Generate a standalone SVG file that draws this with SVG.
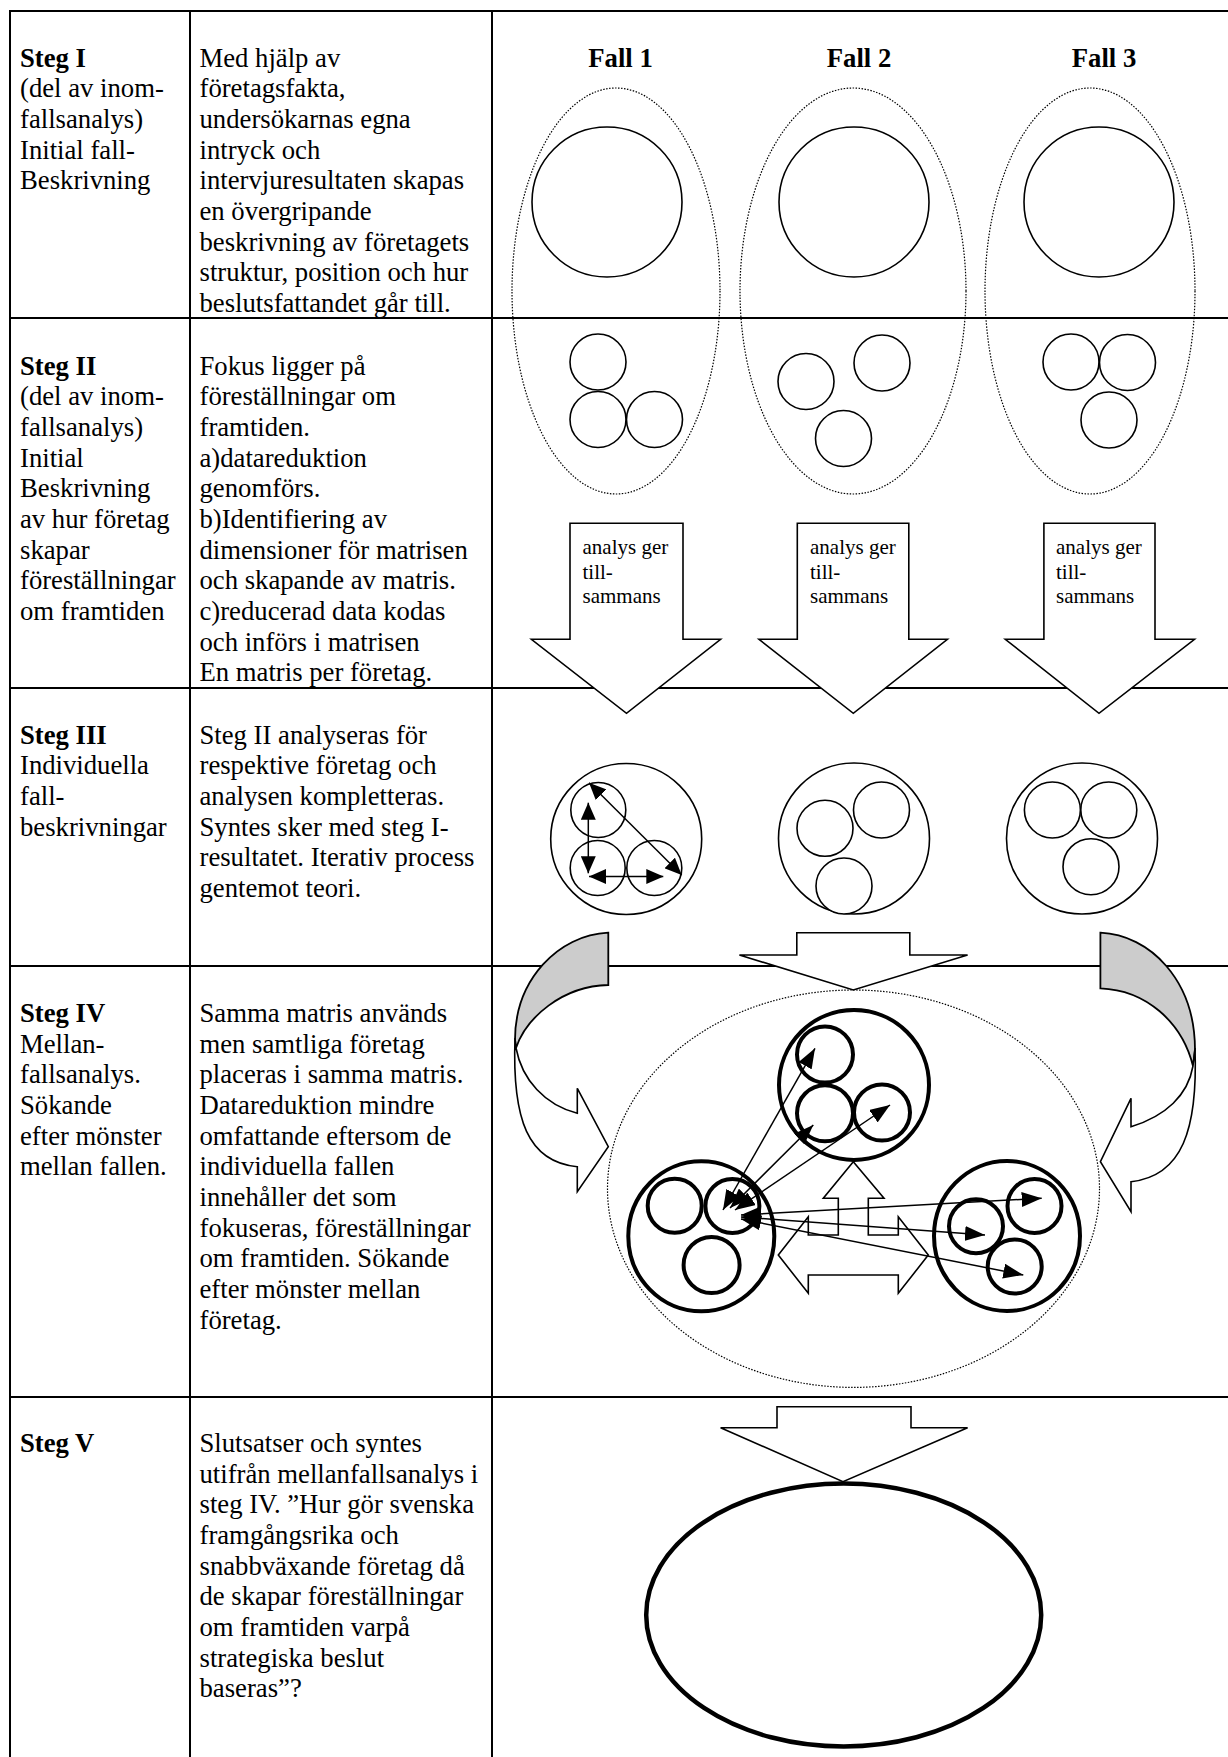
<svg xmlns="http://www.w3.org/2000/svg" width="1228" height="1757" viewBox="0 0 1228 1757">
<style>
.grid{stroke:#000;stroke-width:2;fill:none}
.t{font-family:"Liberation Serif","Times New Roman",serif;font-size:26.7px;fill:#000}
.b{font-weight:bold}
.s{font-family:"Liberation Serif","Times New Roman",serif;font-size:21px;fill:#000}
.dot{fill:none;stroke:#000;stroke-width:1.2;stroke-dasharray:1.5 1.5}
.thin{fill:#fff;stroke:#000;stroke-width:1.6}
.thick{fill:#fff;stroke:#000;stroke-width:4}
.blk{fill:#fff;stroke:#000;stroke-width:1.6;stroke-linejoin:miter}
.gray{fill:#cccccc;stroke:#000;stroke-width:1.8}
.ln{stroke:#000;stroke-width:1.5;fill:none}
</style>
<defs>
<marker id="ah" viewBox="0 0 10 10" refX="10" refY="5" markerUnits="userSpaceOnUse" markerWidth="20" markerHeight="15" orient="auto-start-reverse" preserveAspectRatio="none">
<path d="M0,0 L10,5 L0,10 z" fill="#000"/>
</marker>
<marker id="ahs" viewBox="0 0 10 10" refX="10" refY="5" markerUnits="userSpaceOnUse" markerWidth="17" markerHeight="15" orient="auto-start-reverse" preserveAspectRatio="none">
<path d="M0,0 L10,5 L0,10 z" fill="#000"/>
</marker>
</defs>
<rect width="1228" height="1757" fill="#fff"/>

<g id="table">
<line class="grid" x1="10" y1="11" x2="1228" y2="11"/>
<line class="grid" x1="10" y1="318" x2="1228" y2="318"/>
<line class="grid" x1="10" y1="688" x2="1228" y2="688"/>
<line class="grid" x1="10" y1="966" x2="1228" y2="966"/>
<line class="grid" x1="10" y1="1397" x2="1228" y2="1397"/>
<line class="grid" x1="10" y1="10" x2="10" y2="1757"/>
<line class="grid" x1="190" y1="10" x2="190" y2="1757"/>
<line class="grid" x1="492" y1="10" x2="492" y2="1757"/>
</g>

<g id="steg1-label">
<text class="t" x="20" y="66.7"><tspan class="b">Steg I</tspan><tspan x="20" dy="30.67">(del av inom-</tspan><tspan x="20" dy="30.67">fallsanalys)</tspan><tspan x="20" dy="30.67">Initial fall-</tspan><tspan x="20" dy="30.67">Beskrivning</tspan></text>
</g>
<g id="steg1-text">
<text class="t" x="199.5" y="66.7"><tspan>Med hjälp av</tspan><tspan x="199.5" dy="30.67">företagsfakta,</tspan><tspan x="199.5" dy="30.67">undersökarnas egna</tspan><tspan x="199.5" dy="30.67">intryck och</tspan><tspan x="199.5" dy="30.67">intervjuresultaten skapas</tspan><tspan x="199.5" dy="30.67">en övergripande</tspan><tspan x="199.5" dy="30.67">beskrivning av företagets</tspan><tspan x="199.5" dy="30.67">struktur, position och hur</tspan><tspan x="199.5" dy="30.67">beslutsfattandet går till.</tspan></text>
</g>

<g id="steg2-label">
<text class="t" x="20" y="374.5"><tspan class="b">Steg II</tspan><tspan x="20" dy="30.67">(del av inom-</tspan><tspan x="20" dy="30.67">fallsanalys)</tspan><tspan x="20" dy="30.67">Initial</tspan><tspan x="20" dy="30.67">Beskrivning</tspan><tspan x="20" dy="30.67">av hur företag</tspan><tspan x="20" dy="30.67">skapar</tspan><tspan x="20" dy="30.67">föreställningar</tspan><tspan x="20" dy="30.67">om framtiden</tspan></text>
</g>
<g id="steg2-text">
<text class="t" x="199.5" y="374.5"><tspan>Fokus ligger på</tspan><tspan x="199.5" dy="30.67">föreställningar om</tspan><tspan x="199.5" dy="30.67">framtiden.</tspan><tspan x="199.5" dy="30.67">a)datareduktion</tspan><tspan x="199.5" dy="30.67">genomförs.</tspan><tspan x="199.5" dy="30.67">b)Identifiering av</tspan><tspan x="199.5" dy="30.67">dimensioner för matrisen</tspan><tspan x="199.5" dy="30.67">och skapande av matris.</tspan><tspan x="199.5" dy="30.67">c)reducerad data kodas</tspan><tspan x="199.5" dy="30.67">och införs i matrisen</tspan><tspan x="199.5" dy="30.67">En matris per företag.</tspan></text>
</g>

<g id="steg3-label">
<text class="t" x="20" y="743.5"><tspan class="b">Steg III</tspan><tspan x="20" dy="30.67">Individuella</tspan><tspan x="20" dy="30.67">fall-</tspan><tspan x="20" dy="30.67">beskrivningar</tspan></text>
</g>
<g id="steg3-text">
<text class="t" x="199.5" y="743.5"><tspan>Steg II analyseras för</tspan><tspan x="199.5" dy="30.67">respektive företag och</tspan><tspan x="199.5" dy="30.67">analysen kompletteras.</tspan><tspan x="199.5" dy="30.67">Syntes sker med steg I-</tspan><tspan x="199.5" dy="30.67">resultatet. Iterativ process</tspan><tspan x="199.5" dy="30.67">gentemot teori.</tspan></text>
</g>

<g id="steg4-label">
<text class="t" x="20" y="1022"><tspan class="b">Steg IV</tspan><tspan x="20" dy="30.67">Mellan-</tspan><tspan x="20" dy="30.67">fallsanalys.</tspan><tspan x="20" dy="30.67">Sökande</tspan><tspan x="20" dy="30.67">efter mönster</tspan><tspan x="20" dy="30.67">mellan fallen.</tspan></text>
</g>
<g id="steg4-text">
<text class="t" x="199.5" y="1022"><tspan>Samma matris används</tspan><tspan x="199.5" dy="30.67">men samtliga företag</tspan><tspan x="199.5" dy="30.67">placeras i samma matris.</tspan><tspan x="199.5" dy="30.67">Datareduktion mindre</tspan><tspan x="199.5" dy="30.67">omfattande eftersom de</tspan><tspan x="199.5" dy="30.67">individuella fallen</tspan><tspan x="199.5" dy="30.67">innehåller det som</tspan><tspan x="199.5" dy="30.67">fokuseras, föreställningar</tspan><tspan x="199.5" dy="30.67">om framtiden. Sökande</tspan><tspan x="199.5" dy="30.67">efter mönster mellan</tspan><tspan x="199.5" dy="30.67">företag.</tspan></text>
</g>

<g id="steg5-label">
<text class="t b" x="20" y="1452">Steg V</text>
</g>
<g id="steg5-text">
<text class="t" x="199.5" y="1452"><tspan>Slutsatser och syntes</tspan><tspan x="199.5" dy="30.67">utifrån mellanfallsanalys i</tspan><tspan x="199.5" dy="30.67">steg IV. ”Hur gör svenska</tspan><tspan x="199.5" dy="30.67">framgångsrika och</tspan><tspan x="199.5" dy="30.67">snabbväxande företag då</tspan><tspan x="199.5" dy="30.67">de skapar föreställningar</tspan><tspan x="199.5" dy="30.67">om framtiden varpå</tspan><tspan x="199.5" dy="30.67">strategiska beslut</tspan><tspan x="199.5" dy="30.67">baseras”?</tspan></text>
</g>

<g id="fall-headers">
<text class="t b" x="620.5" y="66.7" text-anchor="middle">Fall 1</text>
<text class="t b" x="859" y="66.7" text-anchor="middle">Fall 2</text>
<text class="t b" x="1104" y="66.7" text-anchor="middle">Fall 3</text>
</g>

<g id="fall1-stage12">
<ellipse class="dot" cx="616" cy="291" rx="104" ry="203"/>
<circle class="thin" cx="607" cy="202" r="75"/>
<circle class="thin" cx="598" cy="362" r="28"/>
<circle class="thin" cx="598" cy="419.5" r="28"/>
<circle class="thin" cx="654.5" cy="419.5" r="28"/>
</g>
<g id="fall2-stage12">
<ellipse class="dot" cx="853" cy="291" rx="113" ry="203"/>
<circle class="thin" cx="854" cy="202" r="75"/>
<circle class="thin" cx="806" cy="381.5" r="28"/>
<circle class="thin" cx="882" cy="363" r="28"/>
<circle class="thin" cx="843.5" cy="438.5" r="28"/>
</g>
<g id="fall3-stage12">
<ellipse class="dot" cx="1090" cy="291" rx="105" ry="203"/>
<circle class="thin" cx="1099" cy="202" r="75"/>
<circle class="thin" cx="1071" cy="362" r="28"/>
<circle class="thin" cx="1127.5" cy="362.5" r="28"/>
<circle class="thin" cx="1109" cy="420" r="28"/>
</g>

<g id="arrow1-analys">
<path class="blk" d="M570,523.3 L683,523.3 L683,639.3 L720.6,639.3 L626.5,713.3 L531.4,639.3 L570,639.3 Z"/>
<text class="s" x="582.5" y="554"><tspan>analys ger</tspan><tspan x="582.5" dy="24.5">till-</tspan><tspan x="582.5" dy="24.5">sammans</tspan></text>
</g>
<g id="arrow2-analys">
<path class="blk" d="M797.3,523.3 L908.8,523.3 L908.8,639.3 L947.4,639.3 L853.3,713.3 L759,639.3 L797.3,639.3 Z"/>
<text class="s" x="810" y="554"><tspan>analys ger</tspan><tspan x="810" dy="24.5">till-</tspan><tspan x="810" dy="24.5">sammans</tspan></text>
</g>
<g id="arrow3-analys">
<path class="blk" d="M1043.9,523.3 L1155,523.3 L1155,639.3 L1194.5,639.3 L1099,713.3 L1005.3,639.3 L1043.9,639.3 Z"/>
<text class="s" x="1056" y="554"><tspan>analys ger</tspan><tspan x="1056" dy="24.5">till-</tspan><tspan x="1056" dy="24.5">sammans</tspan></text>
</g>

<g id="fall1-stage3">
<circle class="thin" cx="626.2" cy="839" r="75.5"/>
<circle class="thin" cx="598.3" cy="810" r="27.5"/>
<circle class="thin" cx="597.7" cy="868" r="27.5"/>
<circle class="thin" cx="654.3" cy="868" r="27.5"/>
</g>
<g id="fall2-stage3">
<circle class="thin" cx="854" cy="838.5" r="75.5"/>
<circle class="thin" cx="825" cy="828.3" r="28"/>
<circle class="thin" cx="881.5" cy="810" r="28"/>
<circle class="thin" cx="844" cy="886" r="28"/>
</g>
<g id="fall3-stage3">
<circle class="thin" cx="1082" cy="838.5" r="75.5"/>
<circle class="thin" cx="1052.4" cy="810" r="28"/>
<circle class="thin" cx="1108.8" cy="810" r="28"/>
<circle class="thin" cx="1091" cy="866.7" r="28"/>
</g>

<g id="curved-arrow-left">
<path class="gray" d="M608.3,932.7 C558,935 515,980 515,1040 L516,1048 C526,1018 562,986 608.3,985 Z"/>
<path class="blk" d="M515,1038 C512,1120 528,1162 577.3,1166.7 L577.3,1191.7 L608.3,1146.7 L577.3,1088.3 L577.3,1113.3 C545,1105 522,1080 516,1048 Z"/>
</g>
<g id="curved-arrow-right">
<path class="gray" d="M1100.4,932.7 C1150,935 1195,980 1195,1050 L1193,1066 C1182,1022 1146,990 1100.4,988.3 Z"/>
<path class="blk" d="M1195,1048 C1198,1130 1182,1176 1131,1181.7 L1131,1211.7 L1100.4,1161.7 L1131,1098.3 L1131,1126.7 C1166,1116 1188,1095 1193,1066 Z"/>
</g>
<g id="arrow-down-center">
<path class="blk" d="M796.8,932.7 L909.8,932.7 L909.8,955 L967.6,955 L853.3,990 L739.4,955 L796.8,955 Z"/>
</g>

<g id="crosscase-area">
<ellipse class="dot" cx="853.5" cy="1188.7" rx="246" ry="198.7"/>
</g>
<g id="case-top">
<circle class="thick" cx="854" cy="1085" r="75"/>
<circle class="thick" cx="825" cy="1054.5" r="28"/>
<circle class="thick" cx="825" cy="1113.3" r="28"/>
<circle class="thick" cx="882" cy="1112.5" r="28"/>
</g>
<g id="case-left">
<ellipse class="thick" cx="701.3" cy="1236.3" rx="73" ry="75"/>
<circle class="thick" cx="674.7" cy="1205.7" r="27"/>
<circle class="thick" cx="732.4" cy="1206" r="27"/>
<circle class="thick" cx="711.6" cy="1265" r="28"/>
</g>
<g id="case-right">
<ellipse class="thick" cx="1007" cy="1236" rx="73" ry="75"/>
<circle class="thick" cx="976" cy="1226.3" r="27"/>
<circle class="thick" cx="1034.5" cy="1206" r="27"/>
<circle class="thick" cx="1014.7" cy="1266.5" r="27"/>
</g>
<g id="arrow-left-right-up">
<path class="blk" d="M778.3,1255 L808.3,1216.7 L808.3,1235 L838.3,1235 L838.3,1198.3 L823.3,1198.3 L853.3,1161.7 L884,1198.3 L868.3,1198.3 L868.3,1235 L898.3,1235 L898.3,1216.7 L928.3,1255 L898.3,1293.3 L898.3,1275 L808.3,1275 L808.3,1293.3 Z"/>
</g>

<g id="connectors">
<line class="ln" x1="588.3" y1="802.7" x2="588.3" y2="873.3" marker-start="url(#ahs)" marker-end="url(#ahs)"/>
<line class="ln" x1="589" y1="782.7" x2="681.7" y2="875" marker-start="url(#ahs)" marker-end="url(#ahs)"/>
<line class="ln" x1="589" y1="876.5" x2="663.3" y2="876.5" marker-start="url(#ahs)" marker-end="url(#ahs)"/>
<line class="ln" x1="723" y1="1210" x2="815" y2="1048.3" marker-start="url(#ah)" marker-end="url(#ah)"/>
<line class="ln" x1="730" y1="1208" x2="813.3" y2="1125" marker-start="url(#ah)" marker-end="url(#ah)"/>
<line class="ln" x1="735" y1="1210" x2="890" y2="1105" marker-start="url(#ah)" marker-end="url(#ah)"/>
<line class="ln" x1="741" y1="1215" x2="1041.7" y2="1198.3" marker-start="url(#ah)" marker-end="url(#ah)"/>
<line class="ln" x1="741" y1="1217" x2="985" y2="1235" marker-start="url(#ah)" marker-end="url(#ah)"/>
<line class="ln" x1="741" y1="1219" x2="1023.3" y2="1275" marker-start="url(#ah)" marker-end="url(#ah)"/>
</g>

<g id="arrow-down-final">
<path class="blk" d="M777,1406.7 L911,1406.7 L911,1427.7 L967.6,1427.7 L843,1481.7 L720.6,1427.7 L777,1427.7 Z"/>
</g>
<g id="conclusion">
<ellipse class="thick" cx="843.7" cy="1615" rx="197.5" ry="131.5" style="stroke-width:4.5"/>
</g>
</svg>
